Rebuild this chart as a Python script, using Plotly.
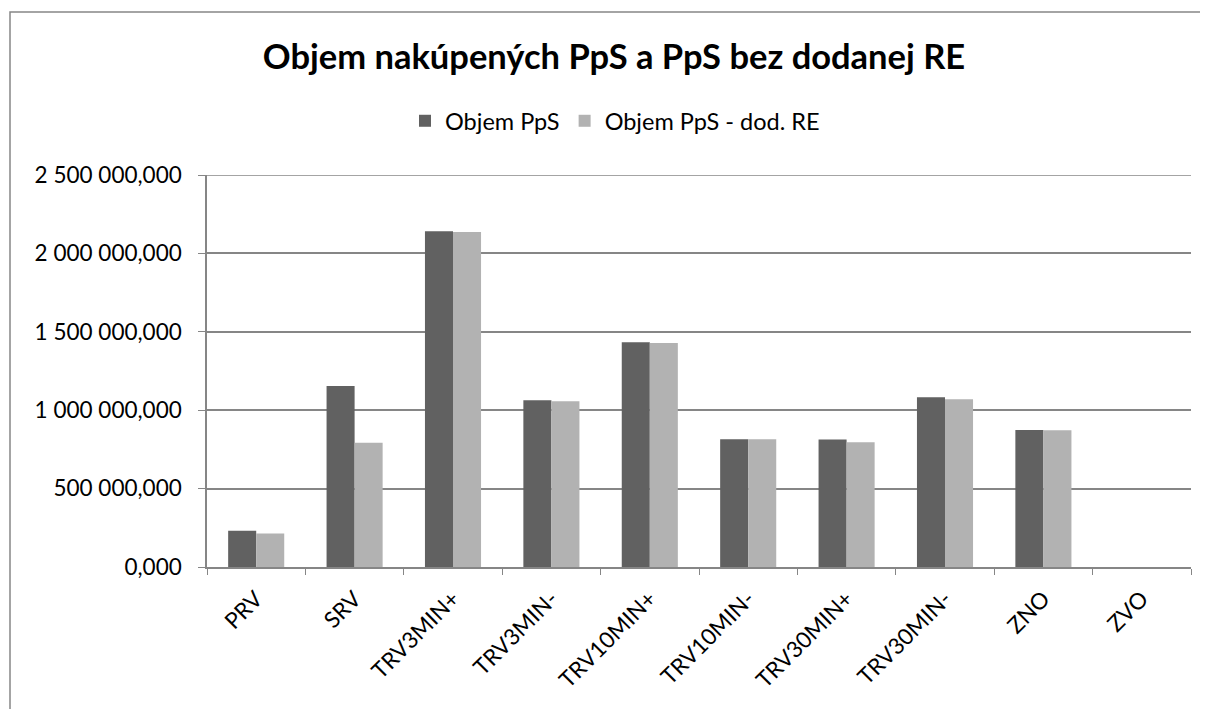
import plotly.graph_objects as go

categories = ["PRV", "SRV", "TRV3MIN+", "TRV3MIN-", "TRV10MIN+", "TRV10MIN-",
              "TRV30MIN+", "TRV30MIN-", "ZNO", "ZVO"]
objem_pps = [231000, 1155000, 2142000, 1064000, 1433000, 815000, 813000, 1083000, 874000, 0]
objem_pps_re = [214000, 792000, 2136000, 1057000, 1429000, 815000, 796000, 1070000, 872000, 0]
y_max = 2500000

# the page body adds an 8px margin, so layout pixels are screen pixels minus 8
OFF = 8
W, H = 1208, 709
L, R = 207 - OFF, W - (1191 - OFF)
T, B = 175 - OFF, H - (567 - OFF)
FONT = "Lato, Open Sans, sans-serif"
GRID = "#868686"

fig = go.Figure()
fig.add_trace(go.Bar(x=categories, y=objem_pps, name="Objem PpS",
                     marker=dict(color="#616161", line=dict(width=0))))
fig.add_trace(go.Bar(x=categories, y=objem_pps_re, name="Objem PpS - dod. RE",
                     marker=dict(color="#b2b2b2", line=dict(width=0))))

pw, ph = W - L - R, H - T - B


def px(x):
    return (x - OFF - L) / pw


def py(y):
    return (H - B - (y - OFF)) / ph


fig.update_layout(
    width=W, height=H,
    margin=dict(l=L, r=R, t=T, b=B, autoexpand=False),
    paper_bgcolor="white", plot_bgcolor="white",
    font=dict(family=FONT, size=22.5, color="black"),
    separators=", ",
    barmode="group", bargap=0.43, bargroupgap=0,
    title=dict(text="<b>Objem nakúpených PpS a PpS bez dodanej RE</b>",
               x=(614 - OFF) / W, xref="container", xanchor="center",
               y=1 - (57 - OFF) / H, yanchor="middle",
               font=dict(family=FONT, size=34.5, color="black")),
    legend=dict(orientation="h", x=px(615), xanchor="center", xref="paper",
                y=py(121), yanchor="middle", font=dict(size=23.5),
                itemwidth=30, traceorder="normal"),
    xaxis=dict(type="category", showline=True, linecolor=GRID, linewidth=1.5,
               ticks="outside", tickson="boundaries", ticklen=6, tickcolor=GRID,
               tickangle=-45, showgrid=False, tickfont=dict(size=22.5),
               ticklabelstandoff=8, automargin=False),
    yaxis=dict(range=[0, y_max], dtick=500000, tickformat=",.3f",
               showline=True, linecolor=GRID, linewidth=1.5,
               ticks="outside", ticklen=7, tickcolor=GRID,
               showgrid=True, gridcolor=GRID, gridwidth=1.5,
               zeroline=False, tickfont=dict(size=22.5),
               ticklabelstandoff=12, automargin=False),
    shapes=[
        dict(type="rect", xref="paper", yref="paper",
             x0=px(10), x1=px(1201), y0=py(730), y1=py(12),
             line=dict(color=GRID, width=1.5), fillcolor="rgba(0,0,0,0)",
             layer="below"),
        dict(type="line", xref="paper", yref="y", x0=0, x1=1, y0=y_max, y1=y_max,
             line=dict(color=GRID, width=1.5), layer="below"),
    ],
)

fig.write_html("out.html")
